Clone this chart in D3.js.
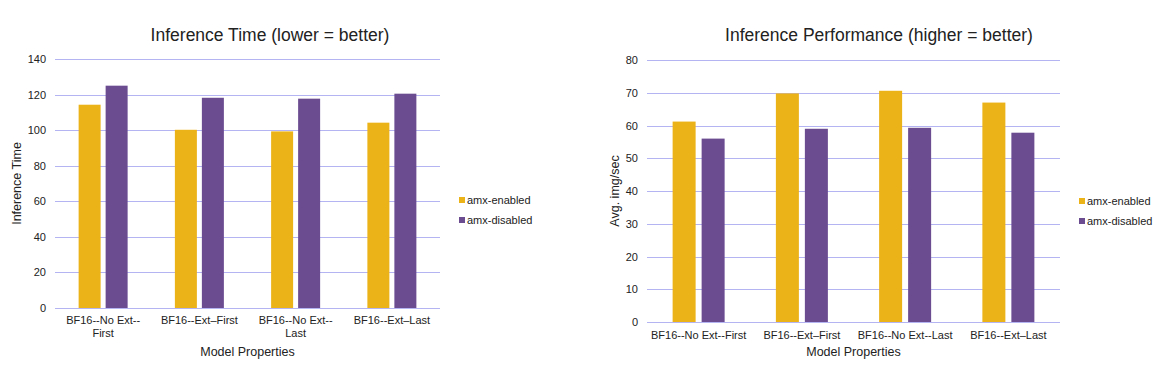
<!DOCTYPE html>
<html lang="en">
<head>
  <meta charset="UTF-8">
  <title>AMX inference charts</title>
  <style>
    body { margin: 0; background: #fff; }
    svg { display: block; font-family: "Liberation Sans", Arial, sans-serif; }
  </style>
</head>
<body>
  <svg width="1163" height="371"></svg>
  <script src="https://d3js.org/d3.v7.min.js"></script>
  <script>
    var categories = ["BF16--No Ext--First", "BF16--Ext\u2013First", "BF16--No Ext--Last", "BF16--Ext\u2013Last"];
    var seriesNames = ["amx-enabled", "amx-disabled"];
    var colors = ["#ecb318", "#6b4c91"];

    var timeEnabled = [114.3, 100.2, 99.3, 104.2];
    var timeDisabled = [125.0, 118.2, 117.7, 120.5];
    var timeTicks = [0, 20, 40, 60, 80, 100, 120, 140];

    var perfEnabled = [61.2, 69.8, 70.6, 67.0];
    var perfDisabled = [56.0, 59.0, 59.3, 57.8];
    var perfTicks = [0, 10, 20, 30, 40, 50, 60, 70, 80];

    var svg = d3.select("svg");

    // break a label at hyphen/space points when it gets wider than maxW
    function wrap(text, maxW) {
      text.each(function() {
        var t = d3.select(this);
        var tokens = t.text().match(/[^\s\-\u2013]+[\-\u2013]*\s*/g);
        t.text(null);
        var lines = [], line = "";
        var tmp = t.append("tspan");
        tokens.forEach(function(tok) {
          tmp.text(line + tok);
          if (line && tmp.node().getComputedTextLength() > maxW) {
            lines.push(line);
            line = tok;
          } else {
            line += tok;
          }
        });
        lines.push(line);
        tmp.remove();
        t.attr("dy", null);
        lines.forEach(function(l, i) {
          t.append("tspan").attr("x", 0).attr("dy", i ? 13 : "0.71em").text(l.trim());
        });
      });
    }

    function drawChart(opt) {
      var g = svg.append("g");
      var x0 = d3.scaleBand().domain(categories).range([opt.left, opt.right]);
      var x1 = d3.scaleBand().domain(seriesNames)
                 .range([0, opt.barW * 2 + opt.gap])
                 .paddingInner(opt.gap / (opt.barW + opt.gap));
      var y = d3.scaleLinear().domain([0, opt.max]).range([opt.bottom, opt.top]);

      g.append("g")
        .selectAll("line")
        .data(opt.ticks)
        .enter()
        .append("line")
          .attr("x1", opt.left)
          .attr("x2", opt.right)
          .attr("y1", d => Math.round(y(d)) + 0.5)
          .attr("y2", d => Math.round(y(d)) + 0.5)
          .attr("stroke", "#b4b4f2")
          .attr("stroke-width", 1.2);

      var yAxis = g.append("g")
        .attr("transform", "translate(" + (opt.left - 9) + ",0)")
        .call(d3.axisLeft(y).tickValues(opt.ticks).tickSize(0).tickPadding(0));
      yAxis.select(".domain").remove();
      yAxis.selectAll("text")
        .attr("font-size", 11)
        .attr("font-family", "Liberation Sans, Arial, sans-serif")
        .attr("fill", "#222");

      var rows = categories.map((c, i) => ({cat: c, vals: [opt.series[0][i], opt.series[1][i]]}));
      var groups = g.selectAll(".grp")
        .data(rows)
        .enter()
        .append("g")
          .attr("transform", d => "translate(" + (x0(d.cat) + (x0.bandwidth() - x1.range()[1]) / 2) + ",0)");
      groups.selectAll("rect")
        .data(d => d.vals.map((v, j) => ({name: seriesNames[j], v: v, j: j})))
        .enter()
        .append("rect")
          .attr("x", d => x1(d.name))
          .attr("width", x1.bandwidth())
          .attr("y", d => y(d.v))
          .attr("height", d => y(0) - y(d.v))
          .attr("fill", d => colors[d.j]);

      var xAxis = g.append("g")
        .attr("transform", "translate(0," + opt.bottom + ")")
        .call(d3.axisBottom(x0).tickSize(0).tickPadding(opt.xPad));
      xAxis.select(".domain").remove();
      xAxis.selectAll("text")
        .attr("font-size", 11)
        .attr("font-family", "Liberation Sans, Arial, sans-serif")
        .attr("fill", "#222");
      if (opt.wrap) xAxis.selectAll("text").call(wrap, x0.bandwidth() - 8);

      g.append("text")
        .attr("x", opt.titleX)
        .attr("y", opt.titleY)
        .attr("text-anchor", "middle")
        .attr("font-size", 17.5)
        .attr("fill", "#222")
        .text(opt.title);

      g.append("text")
        .attr("x", (opt.left + opt.right) / 2)
        .attr("y", 356)
        .attr("text-anchor", "middle")
        .attr("font-size", 12.5)
        .attr("fill", "#222")
        .text("Model Properties");

      g.append("text")
        .attr("transform", "translate(" + opt.yLabelX + "," + ((opt.top + opt.bottom) / 2) + ") rotate(-90)")
        .attr("text-anchor", "middle")
        .attr("font-size", 12.5)
        .attr("fill", "#222")
        .text(opt.yLabel);

      var legend = g.selectAll(".leg")
        .data(seriesNames)
        .enter()
        .append("g")
          .attr("transform", (d, i) => "translate(" + opt.legX + "," + (opt.legY + i * 20) + ")");
      legend.append("rect")
        .attr("x", 0).attr("y", -3)
        .attr("width", 6).attr("height", 6)
        .attr("fill", (d, i) => colors[i]);
      legend.append("text")
        .attr("x", 8).attr("y", 4)
        .attr("font-size", 11)
        .attr("fill", "#222")
        .text(d => d);
    }

    drawChart({
      left: 55, right: 440, top: 59, bottom: 308,
      max: 140, ticks: timeTicks,
      series: [timeEnabled, timeDisabled],
      barW: 22, gap: 5, wrap: true, xPad: 8,
      title: "Inference Time (lower = better)", titleX: 270, titleY: 41,
      yLabel: "Inference Time", yLabelX: 21,
      legX: 459, legY: 200
    });

    drawChart({
      left: 647, right: 1060, top: 60, bottom: 322,
      max: 80, ticks: perfTicks,
      series: [perfEnabled, perfDisabled],
      barW: 23, gap: 6, wrap: false, xPad: 9,
      title: "Inference Performance (higher = better)", titleX: 879, titleY: 41,
      yLabel: "Avg. img/sec", yLabelX: 619,
      legX: 1079, legY: 201
    });
  </script>
</body>
</html>
